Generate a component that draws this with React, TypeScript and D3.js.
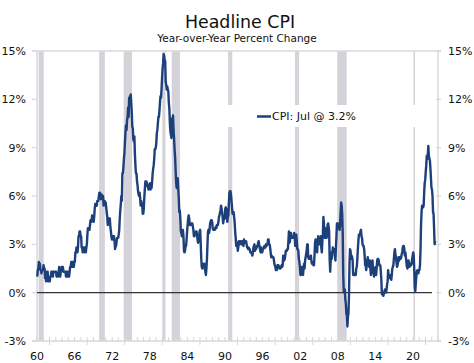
import React from 'react';
import * as d3 from 'd3';

// monthly CPI y/y % change, one array per decade (Jan 1960 onward)
const cpi1960s = [
  1.0, 1.4, 1.5, 1.9, 1.8, 1.8, 1.4, 1.4, 1.2, 1.4, 1.4, 1.4,
  1.7, 1.5, 1.5, 0.9, 0.9, 0.7, 1.3, 1.3, 1.3, 0.7, 0.7, 0.7,
  0.7, 1.0, 1.0, 1.3, 1.3, 1.3, 1.0, 1.3, 1.3, 1.3, 1.3, 1.3,
  1.3, 1.0, 1.0, 1.0, 1.0, 1.3, 1.6, 1.3, 1.0, 1.3, 1.3, 1.6,
  1.6, 1.6, 1.3, 1.3, 1.3, 1.3, 1.3, 1.0, 1.3, 1.0, 1.3, 1.0,
  1.0, 1.0, 1.3, 1.6, 1.6, 1.9, 1.6, 1.9, 1.6, 1.9, 1.6, 1.9,
  1.9, 2.5, 2.5, 2.8, 2.8, 2.5, 2.8, 3.5, 3.5, 3.8, 3.8, 3.5,
  3.5, 2.8, 2.8, 2.5, 2.8, 2.8, 2.8, 2.5, 2.8, 2.5, 2.8, 3.0,
  3.6, 4.0, 4.0, 3.9, 3.9, 4.2, 4.5, 4.4, 4.4, 4.8, 4.7, 4.7,
  4.4, 4.7, 5.2, 5.5, 5.5, 5.5, 5.4, 5.7, 5.7, 5.7, 6.0, 6.2,
];
const cpi1970s = [
  6.2, 6.1, 5.8, 6.1, 6.0, 6.0, 6.0, 5.4, 5.7, 5.7, 5.6, 5.6,
  5.3, 5.0, 4.7, 4.2, 4.4, 4.6, 4.4, 4.6, 4.1, 3.8, 3.5, 3.3,
  3.3, 3.5, 3.5, 3.5, 3.2, 2.7, 2.9, 2.9, 3.2, 3.4, 3.4, 3.4,
  3.6, 3.9, 4.6, 5.1, 5.5, 6.0, 5.7, 7.4, 7.4, 7.8, 8.3, 8.7,
  9.4, 10.0, 10.4, 10.1, 10.7, 10.9, 11.5, 10.9, 12.1, 12.1, 12.2, 12.3,
  11.8, 11.2, 10.3, 10.2, 9.5, 9.4, 9.7, 8.6, 7.9, 7.4, 7.4, 6.9,
  6.7, 6.3, 6.1, 6.0, 6.2, 5.9, 5.4, 5.7, 5.5, 5.5, 4.9, 4.9,
  5.2, 5.9, 6.4, 6.9, 6.7, 6.9, 6.8, 6.6, 6.6, 6.4, 6.7, 6.7,
  6.8, 6.4, 6.6, 6.5, 6.9, 7.4, 7.7, 7.9, 8.3, 8.9, 8.9, 9.0,
  9.3, 9.9, 10.1, 10.5, 10.9, 10.9, 11.3, 11.8, 12.2, 12.1, 12.6, 13.3,
];
const cpi1980s = [
  13.9, 14.2, 14.8, 14.7, 14.4, 14.4, 13.1, 12.9, 12.6, 12.8, 12.6, 12.5,
  11.8, 11.4, 10.5, 10.0, 9.8, 9.6, 10.8, 10.8, 11.0, 10.1, 9.6, 8.9,
  8.4, 7.6, 6.8, 6.5, 6.7, 7.1, 6.4, 5.9, 5.0, 5.1, 4.6, 3.8,
  3.7, 3.5, 3.6, 3.9, 3.5, 2.6, 2.5, 2.6, 2.9, 2.9, 3.3, 3.8,
  4.2, 4.6, 4.8, 4.6, 4.2, 4.2, 4.2, 4.3, 4.3, 4.3, 4.1, 3.9,
  3.5, 3.5, 3.7, 3.7, 3.8, 3.8, 3.6, 3.3, 3.1, 3.2, 3.5, 3.8,
  3.9, 3.1, 2.2, 1.6, 1.5, 1.8, 1.6, 1.6, 1.8, 1.5, 1.3, 1.1,
  1.5, 2.1, 3.0, 3.8, 3.9, 3.7, 3.9, 4.3, 4.4, 4.5, 4.5, 4.4,
  4.0, 3.9, 3.9, 3.9, 3.9, 4.0, 4.1, 4.0, 4.2, 4.2, 4.2, 4.4,
  4.7, 4.8, 5.0, 5.1, 5.4, 5.2, 5.0, 4.7, 4.3, 4.5, 4.7, 4.6,
];
const cpi1990s = [
  5.2, 5.3, 5.2, 4.7, 4.4, 4.7, 4.8, 5.6, 6.2, 6.3, 6.3, 6.1,
  5.7, 5.3, 4.9, 4.9, 5.0, 4.7, 4.4, 3.8, 3.4, 2.9, 3.0, 3.1,
  2.6, 2.8, 3.2, 3.2, 3.0, 3.1, 3.2, 3.1, 3.0, 3.2, 3.0, 2.9,
  3.3, 3.2, 3.1, 3.2, 3.2, 3.0, 2.8, 2.8, 2.7, 2.8, 2.7, 2.7,
  2.5, 2.5, 2.5, 2.4, 2.3, 2.5, 2.8, 2.9, 3.0, 2.6, 2.7, 2.7,
  2.8, 2.9, 2.9, 3.1, 3.2, 3.0, 2.8, 2.6, 2.5, 2.8, 2.6, 2.5,
  2.7, 2.7, 2.8, 2.9, 2.9, 2.8, 3.0, 2.9, 3.0, 3.0, 3.3, 3.3,
  3.0, 3.0, 2.8, 2.5, 2.2, 2.3, 2.2, 2.2, 2.2, 2.1, 1.8, 1.7,
  1.6, 1.4, 1.4, 1.4, 1.7, 1.7, 1.7, 1.6, 1.5, 1.5, 1.5, 1.6,
  1.7, 1.6, 1.7, 2.3, 2.1, 2.0, 2.1, 2.3, 2.6, 2.6, 2.6, 2.7,
];
const cpi2000s = [
  2.7, 3.2, 3.8, 3.1, 3.2, 3.7, 3.7, 3.4, 3.5, 3.4, 3.4, 3.4,
  3.7, 3.5, 2.9, 3.3, 3.6, 3.2, 2.7, 2.7, 2.6, 2.1, 1.9, 1.6,
  1.1, 1.1, 1.5, 1.6, 1.2, 1.1, 1.5, 1.8, 1.5, 2.0, 2.2, 2.4,
  2.6, 3.0, 3.0, 2.2, 2.1, 2.1, 2.1, 2.2, 2.3, 2.0, 1.8, 1.9,
  1.9, 1.7, 1.7, 2.3, 3.1, 3.3, 3.0, 2.7, 2.5, 3.2, 3.5, 3.3,
  3.0, 3.0, 3.1, 3.5, 2.8, 2.5, 3.2, 3.6, 4.7, 4.3, 3.5, 3.4,
  4.0, 3.6, 3.4, 3.5, 4.2, 4.3, 4.1, 3.8, 2.1, 1.3, 2.0, 2.5,
  2.1, 2.4, 2.8, 2.6, 2.7, 2.7, 2.4, 2.0, 2.8, 3.5, 4.3, 4.1,
  4.3, 4.0, 4.0, 3.9, 4.2, 5.0, 5.6, 5.4, 4.9, 3.7, 1.1, 0.1,
  0.0, 0.2, -0.4, -0.7, -1.3, -1.4, -2.1, -1.5, -1.3, -0.2, 1.8, 2.7,
];
const cpi2010s = [
  2.6, 2.1, 2.3, 2.2, 2.0, 1.1, 1.2, 1.1, 1.1, 1.2, 1.1, 1.5,
  1.6, 2.1, 2.7, 3.2, 3.6, 3.6, 3.6, 3.8, 3.9, 3.5, 3.4, 3.0,
  2.9, 2.9, 2.7, 2.3, 1.7, 1.7, 1.4, 1.7, 2.0, 2.2, 1.8, 1.7,
  1.6, 2.0, 1.5, 1.1, 1.4, 1.8, 2.0, 1.5, 1.2, 1.0, 1.2, 1.5,
  1.6, 1.1, 1.5, 2.0, 2.1, 2.1, 2.0, 1.7, 1.7, 1.7, 1.3, 0.8,
  -0.1, 0.0, -0.1, -0.2, 0.0, 0.1, 0.2, 0.2, 0.0, 0.2, 0.5, 0.7,
  1.4, 1.0, 0.9, 1.1, 1.0, 1.0, 0.8, 1.1, 1.5, 1.6, 1.7, 2.1,
  2.5, 2.7, 2.4, 2.2, 1.9, 1.6, 1.7, 1.9, 2.2, 2.0, 2.2, 2.1,
  2.1, 2.2, 2.4, 2.5, 2.8, 2.9, 2.9, 2.7, 2.3, 2.5, 2.2, 1.9,
  1.6, 1.5, 1.9, 2.0, 1.8, 1.6, 1.8, 1.7, 1.7, 1.8, 2.1, 2.3,
];
const cpi2020s = [
  2.5, 2.3, 1.5, 0.3, 0.1, 0.6, 1.0, 1.3, 1.4, 1.2, 1.2, 1.4,
  1.4, 1.7, 2.6, 4.2, 5.0, 5.4, 5.4, 5.3, 5.4, 6.2, 6.8, 7.0,
  7.5, 7.9, 8.5, 8.3, 8.6, 9.1, 8.5, 8.3, 8.2, 7.7, 7.1, 6.5,
  6.4, 6.0, 5.0, 4.9, 4.0, 3.0, 3.2,
];

// NBER recessions, decimal years
const recessionStart = [1960.25, 1969.92, 1973.83, 1980.0, 1981.5, 1990.5, 2001.17, 2007.92, 2020.08];
const recessionEnd = [1961.08, 1970.83, 1975.17, 1980.5, 1982.83, 1991.17, 2001.83, 2009.42, 2020.25];

const yTicks = [-3, 0, 3, 6, 9, 12, 15];
const xTicks = [1960, 1966, 1972, 1978, 1984, 1990, 1996, 2002, 2008, 2014, 2020];
const legendLabel = 'CPI: Jul @ 3.2%';

const W = 474;
const H = 363;
const font = 'DejaVu Sans, Verdana, sans-serif';

export default function App() {
  const series = [...cpi1960s, ...cpi1970s, ...cpi1980s, ...cpi1990s, ...cpi2000s, ...cpi2010s, ...cpi2020s];
  const data = series.map((v, i) => ({ t: 1960 + (i + 0.5) / 12, v }));

  const x = d3.scaleLinear().domain([1960, 2024]).range([37, 438]);
  const y = d3.scaleLinear().domain([-3, 15]).range([341, 51]);

  const line = d3.line<{ t: number; v: number }>()
    .x(d => x(d.t))
    .y(d => y(d.v));

  const minorYears = d3.range(1960, 2025);
  const axisColor = '#d8d8d8';

  return (
    <svg width={W} height={H} style={{ position: 'absolute', left: 0, top: 0, background: '#fff' }}>
      <text x={240} y={28} textAnchor="middle" fontFamily={font} fontSize={17.4} fill="#111">Headline CPI</text>
      <text x={237} y={42} textAnchor="middle" fontFamily={font} fontSize={10.5} fill="#111">Year-over-Year Percent Change</text>

      {recessionStart.map((s, i) => {
        const x0 = x(s);
        const w = Math.max(x(recessionEnd[i]) - x0, 1.5);
        return <rect key={i} x={x0} y={51} width={w} height={290} fill="#d6d2da" />;
      })}

      {/* frame */}
      <line x1={32} x2={441} y1={51} y2={51} stroke={axisColor} strokeWidth={1.5} />
      <line x1={37} x2={37} y1={51} y2={341} stroke={axisColor} strokeWidth={1.5} />
      <line x1={438} x2={438} y1={51} y2={341} stroke={axisColor} strokeWidth={1.5} />
      <line x1={32} x2={441} y1={341} y2={341} stroke={axisColor} strokeWidth={1.5} />

      {yTicks.map(t => (
        <g key={t}>
          <line x1={32} x2={37} y1={y(t)} y2={y(t)} stroke={axisColor} strokeWidth={1.2} />
          <line x1={436} x2={441} y1={y(t)} y2={y(t)} stroke={axisColor} strokeWidth={1.2} />
          <text x={26} y={y(t)} dy="0.36em" textAnchor="end" fontFamily={font} fontSize={11} fill="#111">{t}%</text>
          <text x={448} y={y(t)} dy="0.36em" textAnchor="start" fontFamily={font} fontSize={11} fill="#111">{t}%</text>
        </g>
      ))}

      {minorYears.map(yr => (
        <line key={yr} x1={x(yr)} x2={x(yr)} y1={337} y2={yr % 6 === 0 ? 345 : 342} stroke={axisColor} strokeWidth={1} />
      ))}
      {xTicks.map(t => (
        <text key={t} x={x(t)} y={360} textAnchor="middle" fontFamily={font} fontSize={11} fill="#111">
          {String(t).slice(2)}
        </text>
      ))}

      <line x1={37} x2={432} y1={y(0)} y2={y(0)} stroke="#333" strokeWidth={1.2} />

      {/* legend */}
      <rect x={212} y={105} width={212} height={22} fill="#fff" />
      <line x1={257} x2={271} y1={116.5} y2={116.5} stroke="#1d3f7a" strokeWidth={2.5} />
      <text x={272} y={116.5} dy="0.36em" fontFamily={font} fontSize={11} fill="#111">{legendLabel}</text>

      <path d={line(data) ?? ''} fill="none" stroke="#1d3f7a" strokeWidth={2.4} strokeLinejoin="round" />
    </svg>
  );
}
